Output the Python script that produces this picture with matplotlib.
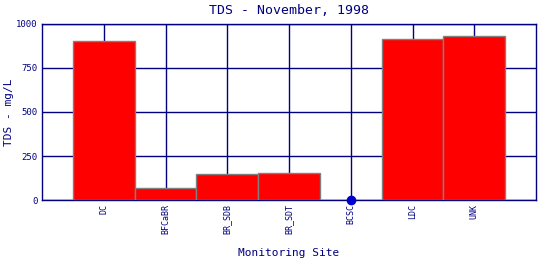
import numpy as np
import matplotlib
matplotlib.use('Agg')
import matplotlib.pyplot as plt

sites = ['DC', 'BFCaBR', 'BR_SDB', 'BR_SDT', 'BCSC', 'LDC', 'UNK']
tds = [905, 66, 148, 152, 0, 913, 930]
yticks = [0, 250, 500, 750, 1000]

navy = '#000080'
plt.rcParams['font.family'] = 'DejaVu Sans Mono'

fig = plt.figure(figsize=(5.4, 2.6), dpi=100)
ax = fig.add_axes([42/540, 60/260, 494/540, 176/260])

pos = np.arange(1, len(sites) + 1)
for p, v in zip(pos, tds):
    if v > 0:
        ax.bar(p, v, width=1.0, color='red', edgecolor='gray', linewidth=1.0, zorder=3)
    else:
        ax.scatter(p, v, color='#0000cc', s=36, zorder=4, clip_on=False)

ax.set_xlim(0, 8)
ax.set_ylim(0, 1000)
ax.set_xticks(pos)
ax.set_xticklabels(sites, rotation=90, fontsize=6, color=navy, va='top')
ax.set_yticks(yticks)
ax.set_yticklabels([str(t) for t in yticks], fontsize=6.5, color=navy)
ax.tick_params(length=0, pad=3)
ax.grid(True, color=navy, linewidth=1.0, zorder=1)
for s in ax.spines.values():
    s.set_color(navy)
    s.set_linewidth(1.0)

ax.set_title('TDS - November, 1998', fontsize=9.5, color=navy, pad=7)
ax.set_xlabel('Monitoring Site', fontsize=8, color=navy, labelpad=10)
ax.set_ylabel('TDS - mg/L', fontsize=8, color=navy)
ax.yaxis.set_label_coords(-0.056, 0.5)

fig.savefig('out.png', dpi=100)
